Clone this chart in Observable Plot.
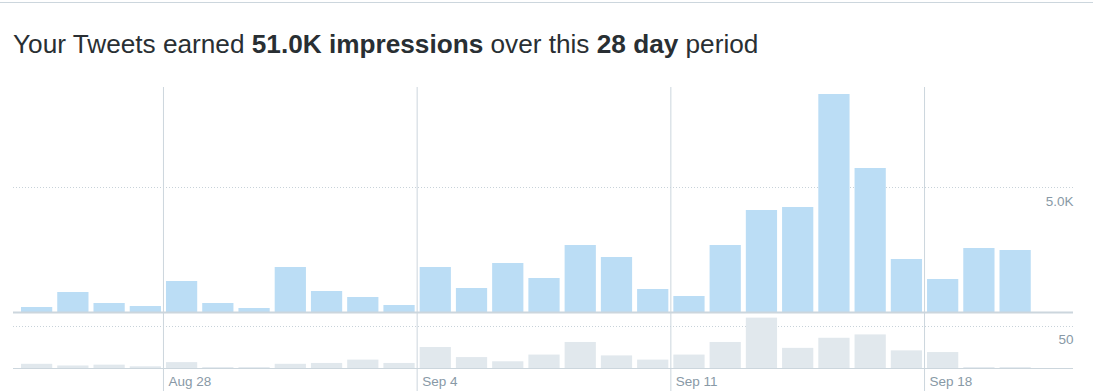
<!DOCTYPE html>
<html><head><meta charset="utf-8">
<script src="https://cdn.jsdelivr.net/npm/d3@7"></script>
<script src="https://cdn.jsdelivr.net/npm/@observablehq/plot@0.6"></script>
<style>
body{margin:0;background:#fff;font-family:"Liberation Sans",Arial,Helvetica,sans-serif;}
#wrap{position:relative;width:1093px;height:391px;overflow:hidden;}
#border{position:absolute;left:0;top:2px;width:1093px;height:0;border-top:1px solid #ccd6dd;}
#title{position:absolute;left:13px;top:29px;font-size:26.2px;line-height:30px;color:#292f33;white-space:nowrap;}
#title b{font-weight:bold;}
#top{position:absolute;left:0;top:87px;}
#bot{position:absolute;left:0;top:313px;}
svg{display:block;overflow:visible;}
</style>
</head><body>
<div id="wrap">
  <div id="border"></div>
  <div id="title">Your Tweets earned <b>51.0K impressions</b> over this <b>28 day</b> period</div>
  <div id="top"></div>
  <div id="bot"></div>
</div>
<script>
const days = ["2016-08-24","2016-08-25","2016-08-26","2016-08-27","2016-08-28","2016-08-29","2016-08-30",
  "2016-08-31","2016-09-01","2016-09-02","2016-09-03","2016-09-04","2016-09-05","2016-09-06",
  "2016-09-07","2016-09-08","2016-09-09","2016-09-10","2016-09-11","2016-09-12","2016-09-13",
  "2016-09-14","2016-09-15","2016-09-16","2016-09-17","2016-09-18","2016-09-19","2016-09-20"];
const impressions = [200,800,360,240,1240,360,160,1800,840,600,280,1800,960,1960,
  1360,2680,2200,920,640,2680,4080,4200,8720,5760,2120,1320,2560,2480];
const engagements = [5,3,4,2,7,1,1,5,6,10,6,25,13,8,16,31,15,10,16,31,60,24,36,40,21,19,1,1];
const weekTicks = ["2016-08-28","2016-09-04","2016-09-11","2016-09-18"];
const impressionTicks = [5000];
const engagementTicks = [50];
const periodStart = "2016-08-24", periodEnd = "2016-09-22";

const data = days.map((d, i) => ({date: new Date(d), impressions: impressions[i], engagements: engagements[i]}));
const weeks = weekTicks.map(d => new Date(d));
const nextDay = d => d3.utcDay.offset(d.date, 1);
const font = '"Liberation Sans", Arial, Helvetica, sans-serif';
const xScale = {type: "utc", domain: [new Date(periodStart), new Date(periodEnd)], range: [18, 1069]};
const grid = {stroke: "#c8d2d9", strokeOpacity: 1, strokeDasharray: "1,2"};

const topPlot = Plot.plot({
  width: 1093, height: 226, marginLeft: 13, marginRight: 20, marginTop: 0, marginBottom: 1,
  x: {...xScale, axis: null},
  y: {domain: [0, 9000]},
  style: {fontFamily: font, fontSize: "13.5px", color: "#8899a6", background: "transparent", overflow: "visible"},
  marks: [
    Plot.gridY(impressionTicks, grid),
    Plot.rectY(data, {x1: "date", x2: nextDay, y: "impressions", fill: "#bbddf5", insetLeft: 3, insetRight: 2}),
    Plot.ruleX(weeks, {stroke: "#ccd6dd", insetBottom: -1}),
    Plot.ruleY([0], {stroke: "#ccd6dd", strokeWidth: 2}),
    Plot.axisY(impressionTicks, {anchor: "right", tickSize: 0, tickPadding: 0, textAnchor: "end", dy: 14,
      fontSize: 13.5, label: null, tickFormat: d => (d / 1000).toFixed(1) + "K"})
  ]
});
document.getElementById("top").appendChild(topPlot);

const botPlot = Plot.plot({
  width: 1093, height: 78, marginLeft: 13, marginRight: 20, marginTop: 0, marginBottom: 23,
  x: {...xScale},
  y: {domain: [0, 65.5]},
  style: {fontFamily: font, fontSize: "13.5px", color: "#8899a6", background: "transparent", overflow: "visible"},
  marks: [
    Plot.gridY(engagementTicks, grid),
    Plot.rectY(data, {x1: "date", x2: nextDay, y: "engagements", fill: "#e1e8ed", insetLeft: 3, insetRight: 2}),
    Plot.ruleX(weeks, {stroke: "#ccd6dd", insetBottom: -23}),
    Plot.ruleY([0], {stroke: "#ccd6dd"}),
    Plot.axisY(engagementTicks, {anchor: "right", tickSize: 0, tickPadding: 0, textAnchor: "end", dy: 13.5,
      fontSize: 13.5, label: null}),
    Plot.axisX(weeks, {tickSize: 0, tickPadding: 8, textAnchor: "start", dx: 5, fontSize: 13.5, label: null,
      tickFormat: d3.utcFormat("%b %-d")})
  ]
});
document.getElementById("bot").appendChild(botPlot);
</script>
</body></html>
